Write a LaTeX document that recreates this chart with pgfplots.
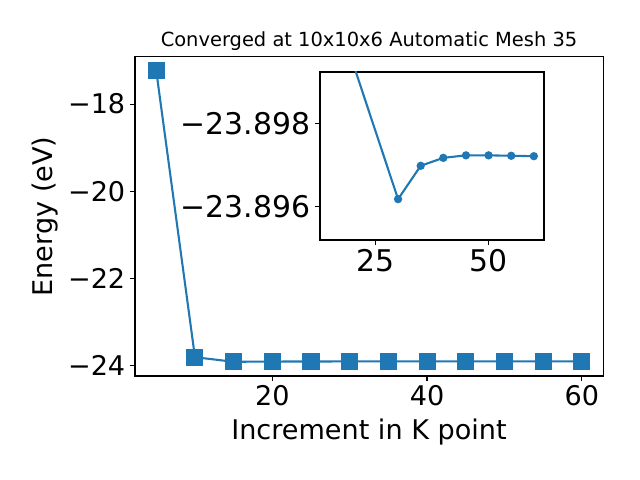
\documentclass[border=0pt]{standalone}
\usepackage{fontspec}
\setmainfont{DejaVu Sans}
\usepackage{pgfplots}
\pgfplotsset{compat=1.18}
\definecolor{tabblue}{HTML}{1F77B4}
\begin{document}
\begin{tikzpicture}
\useasboundingbox (0,0) rectangle (460.8pt,345.6pt);
\begin{axis}[
  at={(97.2pt,74.9pt)}, anchor=south west,
  scale only axis, width=337pt, height=229.7pt,
  xmin=2.25, xmax=62.75, ymin=-24.23, ymax=-16.92,
  xtick={20,40,60}, ytick={-24,-22,-20,-18},
  yticklabels={−24,−22,−20,−18},
  tick pos=left, tick align=outside, major tick length=3.5pt,
  tick style={black, line width=0.8pt},
  axis line style={line width=0.8pt},
  ticklabel style={font=\fontsize{19.5}{22}\selectfont},
  /pgf/number format/assume math mode=true,
  xlabel={Increment in K point}, ylabel={Energy (eV)},
  label style={font=\fontsize{19.5}{22}\selectfont},
  xlabel style={at={(axis description cs:0.5,-0.1755)}, anchor=center},
  ylabel style={at={(axis description cs:-0.192,0.5)}, anchor=center, rotate=0},
  title={Converged at 10x10x6 Automatic Mesh 35},
  title style={font=\fontsize{14}{16}\selectfont, at={(axis description cs:0.5,1.022)}, anchor=center},
]
\addplot[tabblue, line width=1.5pt, mark=square*, mark size=5.4pt, mark options={fill=tabblue, draw=tabblue}]
coordinates {
(5,-17.24) (10,-23.80) (15,-23.905) (20,-23.8995) (25,-23.899) (30,-23.89618)
(35,-23.89698) (40,-23.89717) (45,-23.89723) (50,-23.89723) (55,-23.89722) (60,-23.89721)
};
\end{axis}
\begin{axis}[
  at={(230.4pt,172.8pt)}, anchor=south west,
  scale only axis, width=161.3pt, height=121pt,
  xmin=12.75, xmax=62.25, ymin=-23.89923, ymax=-23.8952,
  y dir=reverse,
  xtick={25,50}, ytick={-23.898,-23.896},
  yticklabels={−23.898,−23.896},
  tick pos=left, tick align=outside, major tick length=3.5pt,
  tick style={black, line width=0.8pt},
  axis line style={line width=0.8pt},
  ticklabel style={font=\fontsize{21.5}{24}\selectfont},
  /pgf/number format/assume math mode=true,
  axis background/.style={fill=white},
  scaled y ticks=false,
]
\addplot[tabblue, line width=1.5pt, mark=*, mark size=2.2pt, mark options={fill=tabblue, draw=tabblue}]
coordinates {
(15,-23.905) (20,-23.89945) (30,-23.89618)
(35,-23.89698) (40,-23.89717) (45,-23.89723) (50,-23.89723) (55,-23.89722) (60,-23.89721)
};
\end{axis}
\end{tikzpicture}
\end{document}
